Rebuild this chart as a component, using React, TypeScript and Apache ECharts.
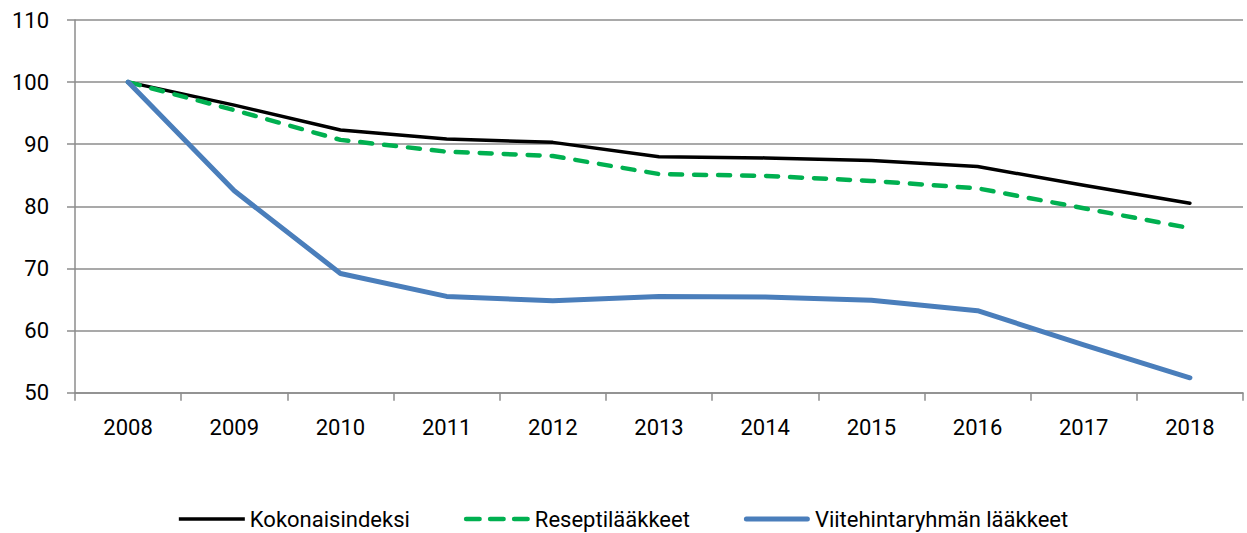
import React, { useEffect, useRef } from "react";
import * as echarts from "echarts";

const years = ["2008", "2009", "2010", "2011", "2012", "2013", "2014", "2015", "2016", "2017", "2018"];
const kokonaisindeksi = [100, 96.3, 92.3, 90.85, 90.3, 88.0, 87.8, 87.4, 86.4, 83.4, 80.5];
const reseptilaakkeet = [100, 95.5, 90.7, 88.8, 88.1, 85.2, 84.9, 84.1, 82.9, 79.7, 76.5];
const viitehinta = [100, 82.5, 69.2, 65.5, 64.8, 65.5, 65.4, 64.9, 63.2, 57.7, 52.4];
const seriesNames = ["Kokonaisindeksi", "Reseptilääkkeet", "Viitehintaryhmän lääkkeet"];

const FONT = "Roboto";
const GRID = "#8c8c8c";

const roundBar = (x: number, w: number, h: number) => {
  const r = h / 2;
  return `M${x + r},0 L${x + w - r},0 A${r},${r} 0 0 1 ${x + w - r},${h} L${x + r},${h} A${r},${r} 0 0 1 ${x + r},0 Z`;
};
const iconSolid = "path://M0,0 L66,0 L66,3.5 L0,3.5 Z";
const iconDash = "path://" + roundBar(0, 18, 4.5) + " " + roundBar(24, 18, 4.5) + " " + roundBar(48, 18, 4.5);
const iconBlue = "path://" + roundBar(0, 66, 5);

export default function App() {
  const ref = useRef<HTMLDivElement>(null);
  useEffect(() => {
    document.body.style.margin = "0";
    if (!ref.current) return;
    const chart = echarts.init(ref.current, undefined, { renderer: "svg" });
    chart.setOption({
      animation: false,
      backgroundColor: "#ffffff",
      grid: { left: 75, right: 4, top: 20, bottom: 140.3, containLabel: false },
      legend: {
        top: 503,
        left: "center",
        itemWidth: 66,
        itemHeight: 14,
        itemGap: 54,
        symbolKeepAspect: true,
        itemStyle: { borderWidth: 0 },
        textStyle: { fontFamily: FONT, fontSize: 22, color: "#000" },
        data: [
          { name: seriesNames[0], icon: iconSolid },
          { name: seriesNames[1], icon: iconDash },
          { name: seriesNames[2], icon: iconBlue },
        ],
      },
      xAxis: {
        type: "category",
        data: years,
        boundaryGap: true,
        axisLine: { lineStyle: { color: GRID, width: 1.5 } },
        axisTick: { show: true, length: 8, lineStyle: { color: GRID, width: 1.5 } },
        axisLabel: { fontFamily: FONT, fontSize: 22, color: "#000", margin: 24 },
        splitLine: { show: false },
      },
      yAxis: {
        type: "value",
        min: 50,
        max: 110,
        interval: 10,
        axisLine: { show: true, lineStyle: { color: GRID, width: 1.5 } },
        axisTick: { show: true, length: 8, lineStyle: { color: GRID, width: 1.5 } },
        axisLabel: { fontFamily: FONT, fontSize: 22, color: "#000", margin: 26 },
        splitLine: { show: true, lineStyle: { color: GRID, width: 1.5 } },
      },
      series: [
        {
          name: seriesNames[0],
          type: "line",
          data: kokonaisindeksi,
          symbol: "none",
          color: "#000000",
          lineStyle: { color: "#000000", width: 3.5, cap: "round", join: "round" },
        },
        {
          name: seriesNames[1],
          type: "line",
          data: reseptilaakkeet,
          symbol: "none",
          color: "#00b050",
          lineStyle: { color: "#00b050", width: 4.5, type: [12, 12], cap: "round", join: "round" },
        },
        {
          name: seriesNames[2],
          type: "line",
          data: viitehinta,
          symbol: "none",
          color: "#4a7ebb",
          lineStyle: { color: "#4a7ebb", width: 5, cap: "round", join: "round" },
        },
      ],
    });
    return () => chart.dispose();
  }, []);
  return <div ref={ref} style={{ width: 1247, height: 533 }} />;
}
